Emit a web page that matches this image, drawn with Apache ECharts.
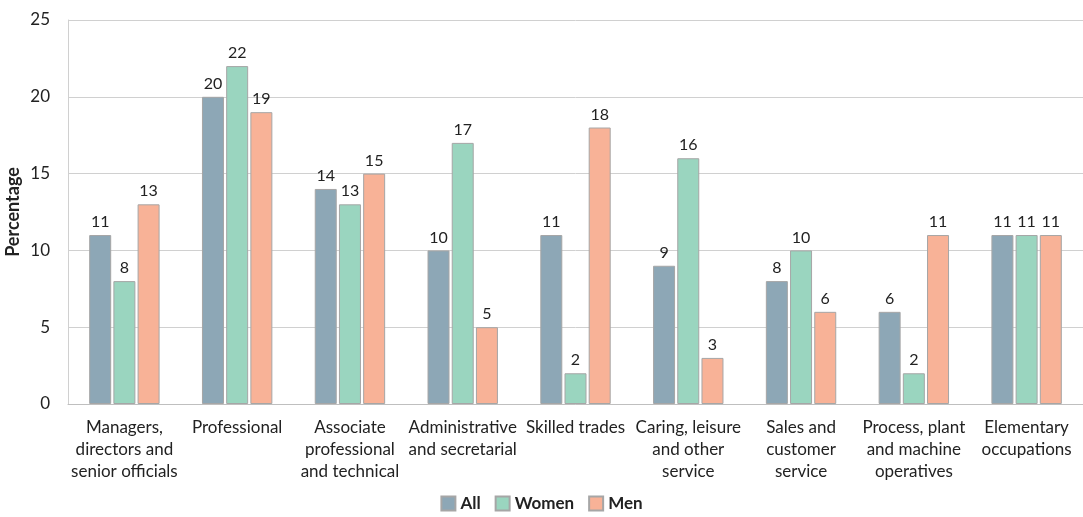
<!DOCTYPE html>
<html>
<head>
<meta charset="utf-8">
<script src="https://cdn.jsdelivr.net/npm/echarts@6/dist/echarts.min.js"></script>
<style>
  html, body { margin: 0; padding: 0; background: #fff; }
  #chart { width: 1083px; height: 517px; }
</style>
</head>
<body>
<div id="chart"></div>
<script>
// occupation groups
const categories = [
  'Managers,\ndirectors and\nsenior officials',
  'Professional',
  'Associate\nprofessional\nand technical',
  'Administrative\nand secretarial',
  'Skilled trades',
  'Caring, leisure\nand other\nservice',
  'Sales and\ncustomer\nservice',
  'Process, plant\nand machine\noperatives',
  'Elementary\noccupations'
];
const allValues = [11, 20, 14, 10, 11, 9, 8, 6, 11];
const womenValues = [8, 22, 13, 17, 2, 16, 10, 2, 11];
const menValues = [13, 19, 15, 5, 18, 3, 6, 11, 11];

const font = 'Lato, "Open Sans", sans-serif';
const textColor = '#222';

function barSeries(name, data, color) {
  return {
    name: name,
    type: 'bar',
    data: data,
    barWidth: 22,
    barGap: '10%',
    itemStyle: {
      color: color,
      borderColor: '#a6a6a6',
      borderWidth: 1
    },
    label: {
      show: true,
      position: 'top',
      distance: 5,
      color: textColor,
      fontFamily: font,
      fontSize: 16
    }
  };
}

const chart = echarts.init(document.getElementById('chart'));
chart.setOption({
  animation: false,
  grid: {
    left: 68,
    right: 0,
    top: 20,
    bottom: 113,
    containLabel: false,
    outerBoundsMode: 'none'
  },
  legend: {
    bottom: 0,
    left: 'center',
    itemWidth: 14,
    itemHeight: 14,
    itemGap: 14,
    icon: 'rect',
    textStyle: {
      color: textColor,
      fontFamily: font,
      fontSize: 17,
      fontWeight: 'bold'
    },
    data: ['All', 'Women', 'Men']
  },
  xAxis: {
    type: 'category',
    data: categories,
    axisLine: { lineStyle: { color: '#bfbfbf' } },
    axisTick: { show: false },
    axisLabel: {
      interval: 0,
      color: textColor,
      fontFamily: font,
      fontSize: 17,
      lineHeight: 22,
      margin: 13
    }
  },
  yAxis: {
    type: 'value',
    min: 0,
    max: 25,
    interval: 5,
    name: 'Percentage',
    nameLocation: 'middle',
    nameGap: 46,
    nameMoveOverlap: false,
    nameTextStyle: {
      color: textColor,
      fontFamily: font,
      fontSize: 18,
      fontWeight: 'bold'
    },
    axisLine: { show: true, lineStyle: { color: '#d0d0d0' } },
    axisTick: { show: false },
    splitLine: { lineStyle: { color: '#d0d0d0' } },
    axisLabel: {
      color: textColor,
      fontFamily: font,
      fontSize: 17,
      margin: 18
    }
  },
  series: [
    barSeries('All', allValues, '#8da7b6'),
    barSeries('Women', womenValues, '#9ad5bf'),
    barSeries('Men', menValues, '#f8b297')
  ]
});
</script>
</body>
</html>
